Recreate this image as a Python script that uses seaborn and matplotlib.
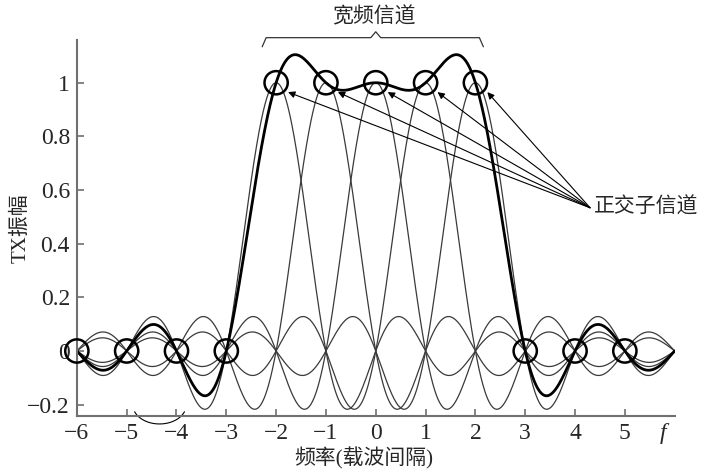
import numpy as np
import matplotlib
matplotlib.use("Agg")
import matplotlib.pyplot as plt
import matplotlib.transforms as mtransforms
import seaborn as sns

sns.set_style("ticks")
plt.rcParams["font.family"] = ["Liberation Serif", "Noto Sans CJK SC"]
plt.rcParams["axes.unicode_minus"] = True

# subcarrier centres (in carrier spacings) and the plotted span
centers = [-2, -1, 0, 1, 2]
x_span = (-6, 6)
# sample points marked with circles
peak_x = [-2, -1, 0, 1, 2]
null_x = [-6, -5, -4, -3, 3, 4, 5]
xticks = [-6, -5, -4, -3, -2, -1, 0, 1, 2, 3, 4, 5]
yticks = [-0.2, 0, 0.2, 0.4, 0.6, 0.8, 1]

x = np.linspace(x_span[0], x_span[1], 1201)
curves = [np.sinc(x - c) for c in centers]
total = np.sum(curves, axis=0)

fig = plt.figure(figsize=(7.05, 4.74), dpi=100)
ax = fig.add_axes([0.109, 0.122, 0.848, 0.794])

for y in curves:
    sns.lineplot(x=x, y=y, ax=ax, color="#3a3a3a", lw=0.9, sort=False)
sns.lineplot(x=x, y=total, ax=ax, color="black", lw=2.0, sort=False)

ax.scatter(peak_x, [1] * len(peak_x), s=280, facecolors="none",
           edgecolors="black", linewidths=1.8, zorder=5, clip_on=False)
ax.scatter(null_x, [0] * len(null_x), s=280, facecolors="none",
           edgecolors="black", linewidths=1.8, zorder=5, clip_on=False)

ax.set_xlim(-6, 6)
ax.set_ylim(-0.243, 1.16)
ax.set_xticks(xticks)
ax.set_yticks(yticks)
ax.set_xticklabels([str(t).replace("-", "\u2212") for t in xticks])
ax.set_yticklabels(["\u22120.2", "0", "0.2", "0.4", "0.6", "0.8", "1"])
ax.tick_params(direction="in", length=5, width=1.2, color="#707070",
               labelsize=17, pad=5)
for s in ["top", "right"]:
    ax.spines[s].set_visible(False)
for s in ["left", "bottom"]:
    ax.spines[s].set_color("#707070")
    ax.spines[s].set_linewidth(1.5)

ax.set_xlabel("频率(载波间隔)", fontsize=15)
ax.xaxis.set_label_coords(0.48, -0.083)
ax.set_ylabel("TX振幅", fontsize=15)
ax.yaxis.set_label_coords(-0.078, 0.5)

trans = mtransforms.blended_transform_factory(ax.transData, ax.transAxes)
ax.text(5.76, -0.045, "f", style="italic", fontsize=17, ha="center",
        va="center", transform=trans)

# bracket for wideband channel
bx = [-2.28, -2.2, -0.1, 0.0, 0.1, 2.08, 2.16]
by = [1.134, 1.168, 1.168, 1.19, 1.168, 1.168, 1.134]
ax.plot(bx, by, color="#333333", lw=0.9, clip_on=False)
ax.text(-0.04, 1.243, "宽频信道", fontsize=15, ha="center", va="center")

# arrows to orthogonal subchannels
for c in peak_x:
    ax.annotate("", xy=(c + 0.24, 0.965), xytext=(4.3, 0.534),
                arrowprops=dict(arrowstyle="-|>", lw=0.8, color="black",
                                mutation_scale=10, shrinkA=0, shrinkB=0))
ax.text(4.38, 0.534, "正交子信道", fontsize=15, ha="left", va="center")

# small stray arc below the axis, as in the source figure
t = np.radians(np.linspace(201.6, 338.4, 60))
ax.plot(-4.34 + 0.538 * np.cos(t), -0.20 + 0.072 * np.sin(t),
        color="black", lw=0.8, clip_on=False)

fig.savefig("out.png", dpi=100)
